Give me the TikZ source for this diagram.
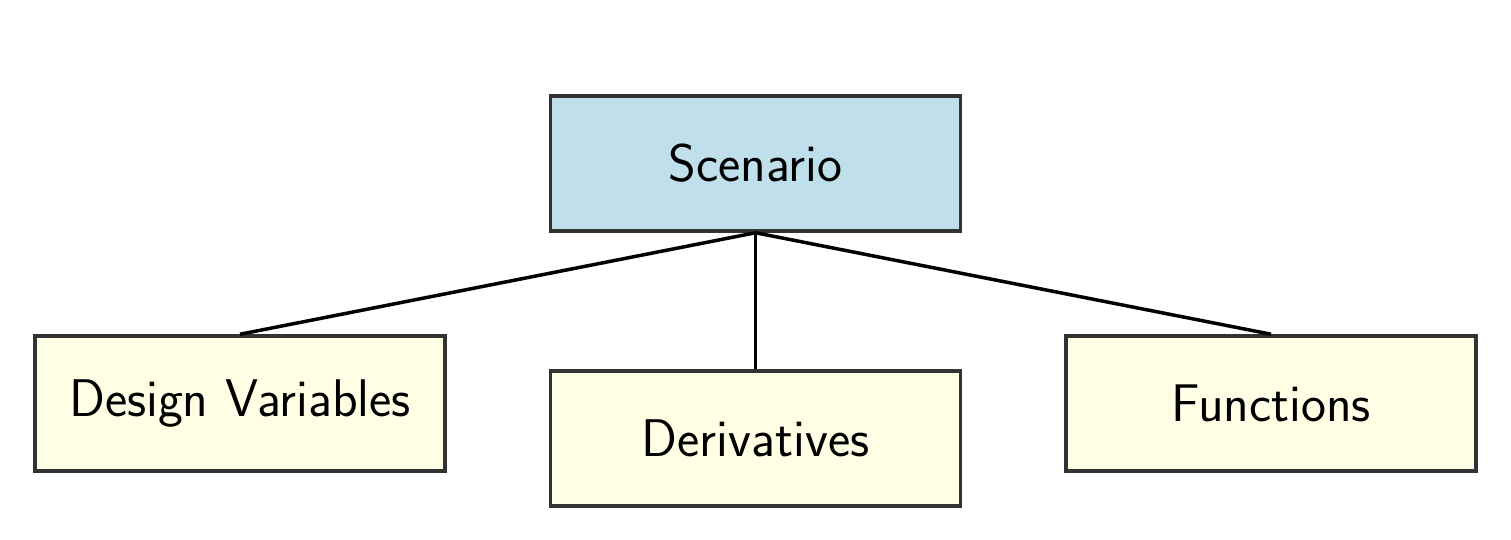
\documentclass[tikz,border=0pt]{standalone}
\usepackage{tikz}
\definecolor{boxblue}{HTML}{BFE0EA}
\definecolor{boxyellow}{HTML}{FFFFE6}
\definecolor{boxline}{HTML}{333333}
\begin{document}
\begin{tikzpicture}[x=1pt,y=-1pt,
  box/.style={draw=boxline,line width=3.5pt,minimum width=410pt,minimum height=135pt,inner sep=0pt,
    font=\sffamily\fontsize{53}{64}\selectfont},
  link/.style={line width=3.5pt,black}]
\useasboundingbox (0,0) rectangle (1511,540);
\node[box,fill=boxblue] (scen) at (755.5,163.5) {Scenario};
\node[box,fill=boxyellow] (dv) at (240,403.5) {Design Variables};
\node[box,fill=boxyellow] (der) at (755.5,438.5) {Derivatives};
\node[box,fill=boxyellow] (fun) at (1271,403.5) {Functions};
\draw[link] (scen.south) -- (dv.north);
\draw[link] (scen.south) -- (der.north);
\draw[link] (scen.south) -- (fun.north);
\end{tikzpicture}
\end{document}
